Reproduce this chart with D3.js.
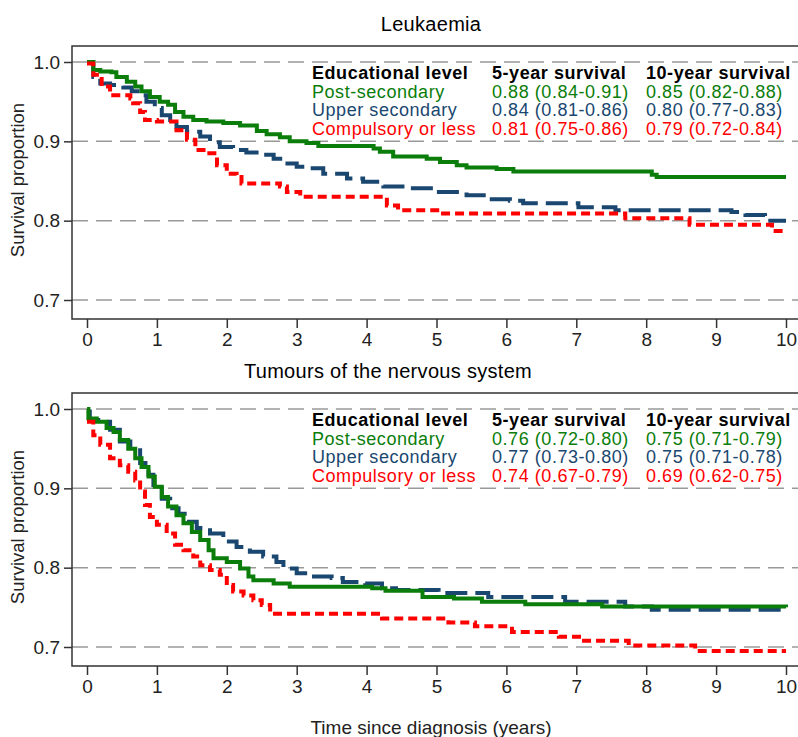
<!DOCTYPE html>
<html>
<head>
<meta charset="utf-8">
<script src="https://cdn.jsdelivr.net/npm/d3@7"></script>
<style>
  body { margin: 0; background: #fff; }
  svg { font-family: "Liberation Sans", Arial, sans-serif; }
</style>
</head>
<body>
<svg id="chart" width="798" height="737"></svg>
<script>
// group labels, shared by both panels
const groups = ["Post-secondary", "Upper secondary", "Compulsory or less"];
const colors = ["#0a7d0a", "#1a476f", "#ff0000"];
const xTicks = [0, 1, 2, 3, 4, 5, 6, 7, 8, 9, 10];
const yTicks = [0.7, 0.8, 0.9, 1.0];

// Leukaemia: [years, survival]
const leukPost = [[0,1],[0.09,0.99],[0.19,0.988],[0.35,0.987],[0.42,0.981],[0.57,0.975],[0.69,0.969],[0.78,0.963],[0.9,0.956],[1.04,0.95],[1.16,0.946],[1.26,0.937],[1.38,0.931],[1.52,0.927],[1.71,0.925],[1.95,0.923],[2.19,0.92],[2.43,0.913],[2.57,0.909],[2.76,0.905],[2.9,0.9],[3.14,0.898],[3.31,0.894],[4.1,0.891],[4.19,0.887],[4.38,0.881],[4.86,0.878],[5.05,0.874],[5.29,0.87],[5.43,0.867],[5.86,0.865],[6.1,0.862],[8.08,0.858],[8.15,0.855],[10,0.855]];
const leukUpper = [[0,1],[0.09,0.981],[0.19,0.973],[0.33,0.971],[0.52,0.968],[0.64,0.963],[0.78,0.958],[0.85,0.95],[0.97,0.942],[1.07,0.933],[1.19,0.927],[1.28,0.918],[1.43,0.912],[1.62,0.906],[1.76,0.899],[1.9,0.893],[2.09,0.889],[2.28,0.886],[2.47,0.883],[2.67,0.878],[2.81,0.872],[3.0,0.868],[3.14,0.866],[3.38,0.859],[3.72,0.853],[3.95,0.849],[4.24,0.843],[4.57,0.841],[4.95,0.836],[5.43,0.832],[5.72,0.827],[6.05,0.825],[6.24,0.822],[7.03,0.817],[7.56,0.813],[9.22,0.811],[9.42,0.807],[9.7,0.8],[10,0.8]];
const leukComp = [[0,0.998],[0.09,0.984],[0.21,0.969],[0.33,0.958],[0.62,0.954],[0.66,0.948],[0.76,0.937],[0.83,0.927],[1.0,0.925],[1.28,0.914],[1.43,0.902],[1.55,0.889],[1.71,0.885],[1.86,0.87],[2.0,0.859],[2.14,0.855],[2.21,0.847],[2.76,0.843],[2.86,0.836],[3.05,0.83],[4.29,0.819],[4.45,0.813],[5.05,0.809],[7.7,0.803],[8.62,0.795],[9.8,0.787],[10,0.787]];

// Tumours of the nervous system
const nervPost = [[0,1],[0.02,0.988],[0.14,0.984],[0.28,0.976],[0.38,0.971],[0.47,0.961],[0.59,0.95],[0.69,0.938],[0.78,0.927],[0.88,0.915],[0.97,0.902],[1.07,0.889],[1.16,0.877],[1.28,0.866],[1.38,0.856],[1.5,0.845],[1.62,0.835],[1.74,0.822],[1.81,0.812],[2.0,0.807],[2.19,0.799],[2.31,0.789],[2.38,0.784],[2.67,0.78],[2.9,0.776],[4.08,0.774],[4.27,0.771],[4.8,0.763],[5.25,0.761],[5.65,0.757],[6.27,0.754],[7.37,0.751],[10,0.75]];
const nervUpper = [[0,0.997],[0.04,0.986],[0.19,0.984],[0.33,0.974],[0.47,0.959],[0.62,0.948],[0.76,0.932],[0.88,0.917],[0.95,0.9],[1.07,0.887],[1.19,0.875],[1.31,0.868],[1.43,0.858],[1.57,0.85],[1.76,0.843],[1.95,0.833],[2.14,0.826],[2.33,0.82],[2.52,0.814],[2.71,0.807],[2.81,0.799],[3.0,0.793],[3.19,0.789],[3.5,0.787],[3.66,0.782],[3.98,0.78],[4.22,0.774],[4.42,0.772],[5.03,0.768],[5.74,0.763],[6.84,0.757],[7.7,0.751],[8.08,0.747],[10,0.747]];
const nervComp = [[0,0.984],[0.09,0.967],[0.19,0.955],[0.33,0.938],[0.47,0.929],[0.59,0.921],[0.69,0.91],[0.76,0.896],[0.83,0.879],[0.9,0.864],[1.0,0.854],[1.14,0.843],[1.26,0.829],[1.38,0.822],[1.52,0.814],[1.62,0.803],[1.76,0.797],[1.9,0.791],[2.0,0.778],[2.09,0.77],[2.24,0.765],[2.38,0.759],[2.5,0.753],[2.62,0.742],[4.22,0.736],[5.17,0.731],[5.55,0.726],[6.08,0.719],[6.75,0.713],[7.08,0.708],[7.75,0.702],[8.7,0.695],[10,0.695]];

// survival estimates shown in the legend table
const leukFive = ["0.88 (0.84-0.91)", "0.84 (0.81-0.86)", "0.81 (0.75-0.86)"];
const leukTen = ["0.85 (0.82-0.88)", "0.80 (0.77-0.83)", "0.79 (0.72-0.84)"];
const nervFive = ["0.76 (0.72-0.80)", "0.77 (0.73-0.80)", "0.74 (0.67-0.79)"];
const nervTen = ["0.75 (0.71-0.79)", "0.75 (0.71-0.78)", "0.69 (0.62-0.75)"];

const panels = [
  {title: "Leukaemia", titleX: 431, top: 46, series: [leukPost, leukUpper, leukComp], five: leukFive, ten: leukTen},
  {title: "Tumours of the nervous system", titleX: 388, top: 393, series: [nervPost, nervUpper, nervComp], five: nervFive, ten: nervTen}
];

const svg = d3.select("#chart");
const left = 72, right = 800;
const x = d3.scaleLinear().domain([0, 10]).range([87, 786]);
const dashes = [null, "22,8", "9,5"];

panels.forEach(p => {
  // 1.0 sits 16px under the frame top, 0.1 = 79.3px
  const y = d3.scaleLinear().domain([0.7, 1.0]).range([p.top + 254, p.top + 16]);
  const bottom = p.top + 273;
  const g = svg.append("g");

  g.append("text")
    .attr("x", p.titleX).attr("y", p.top - 15)
    .attr("text-anchor", "middle")
    .style("font-size", "20px").style("letter-spacing", "0.3px")
    .text(p.title);

  // grid
  g.selectAll(".grid").data(yTicks).join("line")
    .attr("x1", left).attr("x2", right)
    .attr("y1", d => y(d)).attr("y2", d => y(d))
    .style("stroke", "#999").style("stroke-width", 1.5)
    .style("stroke-dasharray", "16,8");

  // frame
  g.append("path")
    .attr("d", `M${right},${p.top}H${left}V${bottom}H${right}`)
    .style("fill", "none").style("stroke", "#333").style("stroke-width", 1.5);

  const ya = g.append("g").attr("transform", `translate(${left},0)`)
    .call(d3.axisLeft(y).tickValues(yTicks).tickFormat(d3.format(".1f")).tickSize(8).tickPadding(4));
  ya.select(".domain").remove();
  ya.selectAll("text").style("font-size", "19px").style("fill", "#222");
  ya.selectAll("line").style("stroke", "#333").style("stroke-width", 1.5);

  const xa = g.append("g").attr("transform", `translate(0,${bottom})`)
    .call(d3.axisBottom(x).tickValues(xTicks).tickSize(9).tickPadding(5));
  xa.select(".domain").remove();
  xa.selectAll("text").style("font-size", "19px").style("fill", "#222");
  xa.selectAll("line").style("stroke", "#333").style("stroke-width", 1.5);

  g.append("text")
    .attr("transform", `translate(24,${p.top + 134}) rotate(-90)`)
    .attr("text-anchor", "middle")
    .style("font-size", "18.5px").style("fill", "#222")
    .text("Survival proportion");

  const line = d3.line().x(d => x(d[0])).y(d => y(d[1])).curve(d3.curveStepAfter);
  [1, 0, 2].forEach(i => {
    g.append("path")
      .attr("d", line(p.series[i]))
      .style("fill", "none")
      .style("stroke", colors[i])
      .style("stroke-width", 4)
      .style("stroke-dasharray", dashes[i]);
  });

  // legend table
  const row0 = p.top + 33, step = 18.5;
  const head = ["Educational level", "5-year survival", "10-year survival"];
  const cols = [312, 492, 646];
  head.forEach((h, j) => {
    g.append("text").attr("x", cols[j]).attr("y", row0)
      .style("font-size", "18px").style("letter-spacing", "0.55px")
      .style("font-weight", "bold").text(h);
  });
  groups.forEach((gname, i) => {
    [gname, p.five[i], p.ten[i]].forEach((t, j) => {
      g.append("text").attr("x", cols[j]).attr("y", row0 + step * (i + 1))
        .style("font-size", "18px").style("letter-spacing", "0.55px")
        .style("fill", colors[i]).text(t);
    });
  });
});

svg.append("text")
  .attr("x", 431).attr("y", 734)
  .attr("text-anchor", "middle")
  .style("font-size", "19px").style("fill", "#222")
  .text("Time since diagnosis (years)");
</script>
</body>
</html>
